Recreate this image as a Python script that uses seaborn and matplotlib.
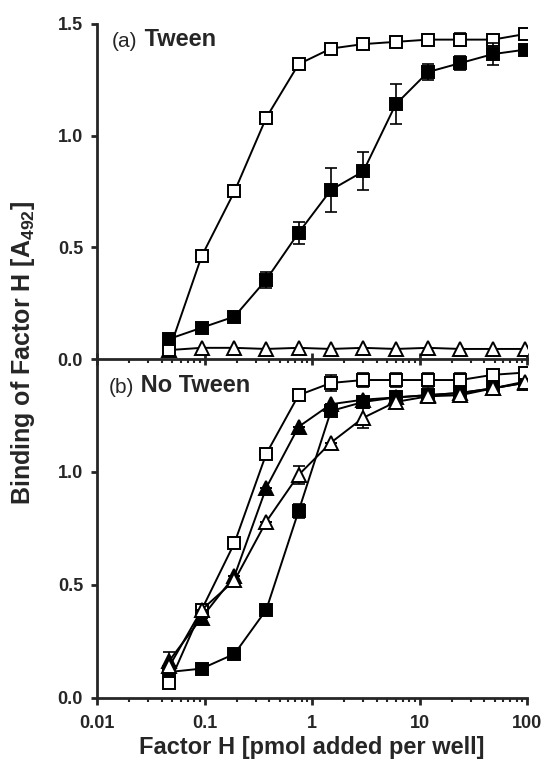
import matplotlib
matplotlib.use("Agg")
import matplotlib.pyplot as plt
import numpy as np
import pandas as pd
import seaborn as sns
from matplotlib.ticker import FixedLocator, LogLocator, NullFormatter

# factor H added per well (pmol), twofold dilution series
DOSE = [0.047, 0.094, 0.19, 0.375, 0.75, 1.5, 3, 6, 12, 24, 48, 96]

# (a) Tween
TWEEN_OPEN_SQ = [0.04, 0.46, 0.75, 1.08, 1.32, 1.39, 1.41, 1.42, 1.43, 1.43, 1.43, 1.455]
TWEEN_OPEN_SQ_ERR = [0, 0, 0, 0, 0, 0.01, 0.02, 0, 0, 0.03, 0, 0]
TWEEN_FILLED_SQ = [0.09, 0.14, 0.19, 0.355, 0.565, 0.757, 0.84, 1.14, 1.285, 1.325, 1.365, 1.385]
TWEEN_FILLED_SQ_ERR = [0, 0.01, 0.01, 0.035, 0.05, 0.1, 0.085, 0.09, 0.035, 0.03, 0.05, 0.01]
TWEEN_OPEN_TRI = [0.04, 0.05, 0.05, 0.045, 0.05, 0.045, 0.05, 0.045, 0.05, 0.045, 0.045, 0.045]

# (b) No Tween
NOTWEEN_OPEN_SQ = [0.066, 0.39, 0.686, 1.08, 1.34, 1.394, 1.407, 1.407, 1.407, 1.407, 1.43, 1.44]
NOTWEEN_OPEN_SQ_ERR = [0, 0, 0, 0, 0.01, 0.035, 0.03, 0.03, 0.03, 0.03, 0, 0]
NOTWEEN_FILLED_SQ = [0.115, 0.13, 0.195, 0.39, 0.827, 1.27, 1.31, 1.33, 1.34, 1.35, 1.37, 1.395]
NOTWEEN_FILLED_SQ_ERR = [0, 0, 0, 0, 0.03, 0, 0, 0, 0, 0, 0, 0]
NOTWEEN_FILLED_TRI = [0.165, 0.355, 0.54, 0.93, 1.2, 1.30, 1.32, 1.33, 1.34, 1.35, 1.37, 1.395]
NOTWEEN_FILLED_TRI_ERR = [0.04, 0, 0, 0, 0, 0, 0, 0, 0, 0, 0, 0]
NOTWEEN_OPEN_TRI = [0.14, 0.39, 0.52, 0.78, 0.987, 1.13, 1.24, 1.31, 1.335, 1.34, 1.37, 1.40]
NOTWEEN_OPEN_TRI_ERR = [0, 0, 0.02, 0, 0.04, 0, 0.044, 0, 0, 0, 0, 0]

TOP_YTICKS = [0.0, 0.5, 1.0, 1.5]
BOTTOM_YTICKS = [0.0, 0.5, 1.0]
XTICKS = [0.01, 0.1, 1, 10, 100]
XTICK_LABELS = ["0.01", "0.1", "1", "10", "100"]

sns.set_style("ticks")
plt.rcParams.update(
    {
        "font.family": ["Liberation Sans", "DejaVu Sans"],
        "mathtext.default": "regular",
        "axes.linewidth": 2.0,
        "xtick.major.width": 2.0,
        "ytick.major.width": 2.0,
        "xtick.minor.width": 1.5,
    }
)

MARKERS = {
    "open_sq": dict(marker="s", markerfacecolor="white", markersize=8),
    "filled_sq": dict(marker="s", markerfacecolor="black", markersize=8),
    "open_tri": dict(marker="^", markerfacecolor="white", markersize=9.5),
    "filled_tri": dict(marker="^", markerfacecolor="black", markersize=9.5),
}


def draw_series(ax, y, err, kind, z):
    df = pd.DataFrame({"dose": DOSE, "binding": y})
    if err is not None and any(e > 0 for e in err):
        ax.errorbar(DOSE, y, yerr=err, fmt="none", ecolor="black", elinewidth=1.2,
                    capsize=4, capthick=1.2, zorder=z - 0.5)
    sns.lineplot(data=df, x="dose", y="binding", ax=ax, color="black", linewidth=1.4,
                 markeredgecolor="black", markeredgewidth=1.4, errorbar=None,
                 legend=False, zorder=z, **MARKERS[kind])


def style_axes(ax, yticks, top):
    ax.set_xscale("log")
    ax.set_xlim(0.01, 100)
    ax.set_ylim(0, 1.5)
    ax.set_yticks(yticks)
    ax.set_yticklabels([f"{t:.1f}" for t in yticks], fontsize=13, fontweight="bold")
    ax.xaxis.set_major_locator(FixedLocator(XTICKS))
    ax.xaxis.set_minor_locator(LogLocator(base=10, subs=np.arange(2, 10)))
    ax.xaxis.set_minor_formatter(NullFormatter())
    ax.tick_params(axis="y", length=4, pad=6)
    ax.tick_params(axis="x", which="minor", direction="out", length=3)
    if top:
        ax.set_xticklabels([])
        ax.tick_params(axis="x", which="major", direction="inout", length=9)
    else:
        ax.set_xticklabels(XTICK_LABELS, fontsize=13, fontweight="bold")
        ax.tick_params(axis="x", which="major", direction="out", length=5, pad=7)
    ax.set_xlabel("")
    ax.set_ylabel("")
    sns.despine(ax=ax)


fig = plt.figure(figsize=(5.54, 7.64), dpi=100)
ax_bot = fig.add_axes([0.1751, 0.0864, 0.7762, 0.4437])
ax_top = fig.add_axes([0.1751, 0.5301, 0.7762, 0.4385])
ax_top.set_zorder(2)
ax_top.patch.set_visible(False)

# (a) Tween
draw_series(ax_top, TWEEN_OPEN_SQ, TWEEN_OPEN_SQ_ERR, "open_sq", 3)
draw_series(ax_top, TWEEN_FILLED_SQ, TWEEN_FILLED_SQ_ERR, "filled_sq", 4)
draw_series(ax_top, TWEEN_OPEN_TRI, None, "open_tri", 2)
style_axes(ax_top, TOP_YTICKS, top=True)
t = ax_top.text(0.035, 0.932, "(a)", transform=ax_top.transAxes, fontsize=15, va="baseline")
ax_top.annotate(" Tween", xy=(1, 0), xycoords=t, va="bottom", fontsize=17, fontweight="bold")

# (b) No Tween
draw_series(ax_bot, NOTWEEN_FILLED_SQ, NOTWEEN_FILLED_SQ_ERR, "filled_sq", 2)
draw_series(ax_bot, NOTWEEN_FILLED_TRI, NOTWEEN_FILLED_TRI_ERR, "filled_tri", 3)
draw_series(ax_bot, NOTWEEN_OPEN_SQ, NOTWEEN_OPEN_SQ_ERR, "open_sq", 4)
draw_series(ax_bot, NOTWEEN_OPEN_TRI, NOTWEEN_OPEN_TRI_ERR, "open_tri", 5)
style_axes(ax_bot, BOTTOM_YTICKS, top=False)
t = ax_bot.text(0.028, 0.90, "(b)", transform=ax_bot.transAxes, fontsize=15, va="baseline")
ax_bot.annotate(" No Tween", xy=(1, 0), xycoords=t, va="bottom", fontsize=17, fontweight="bold")

ax_bot.set_xlabel("Factor H [pmol added per well]", fontsize=17, fontweight="bold", labelpad=3)
fig.text(0.042, 0.538, "Binding of Factor H [A$_{492}$]", rotation=90, ha="center", va="center",
         fontsize=18, fontweight="bold")

fig.savefig("out.png", dpi=100, facecolor="white")
